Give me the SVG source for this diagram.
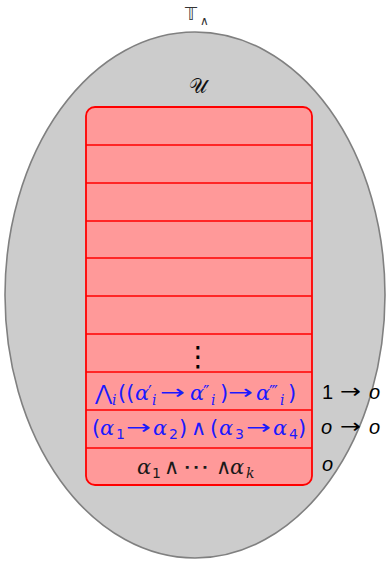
<svg xmlns="http://www.w3.org/2000/svg" width="386" height="561" viewBox="0 0 386 561">
<style>
.row{fill:none;stroke:#ff0000;stroke-width:1.6}
.m{font-family:"DejaVu Sans","Liberation Sans",sans-serif;font-size:21px;font-style:normal}
.a{font-family:"DejaVu Serif","Liberation Serif",serif;font-style:italic;font-size:21px}
.blue{fill:#1a1aff}
.dark{fill:#1a1a1a}
.lab{font-family:"Liberation Sans","DejaVu Sans",sans-serif;font-size:20px;fill:#000}
.it{font-style:italic}
.s{font-size:14px}
.p{font-family:"DejaVu Sans",sans-serif;font-size:17px;font-style:normal}
.arr{font-family:"DejaVu Sans",sans-serif;font-size:20px}
</style>
<rect width="386" height="561" fill="#ffffff"/>
<g id="universe">
<ellipse cx="195" cy="295" rx="190" ry="263" fill="#cccccc" stroke="#808080" stroke-width="1.6"/>
<text font-family="DejaVu Sans,sans-serif" fill="#333333"><tspan x="185" y="20" font-size="17">𝕋</tspan><tspan x="200" y="25" font-size="12">∧</tspan></text>
</g>
<g id="stack">
<rect x="86" y="107" width="226" height="378" rx="9" fill="#ff9999" stroke="#ff0000" stroke-width="1.8"/>
<text x="198" y="93" text-anchor="middle" font-family="DejaVu Serif,serif" font-size="20" fill="#111">𝒰</text>
</g>
<g id="rows">
<path class="row" d="M86 145H312M86 183H312M86 221H312M86 258H312M86 296H312M86 334H312M86 372H312M86 410H312M86 448H312"/>
</g>
<g id="dots">
<text x="198" y="366" text-anchor="middle" font-family="DejaVu Sans,sans-serif" font-size="28" fill="#000">⋮</text>
</g>
<g id="row8">
<text class="blue"><tspan class="m" x="95" y="400" font-size="17">⋀</tspan><tspan class="a s" x="112" y="405">i</tspan><tspan class="m" x="118" y="400">((</tspan><tspan class="a" x="135" y="400">α</tspan><tspan class="p" x="148" y="398">′</tspan><tspan class="a s" x="152" y="405">i</tspan><tspan class="a" x="190" y="400">α</tspan><tspan class="p" x="203" y="398">″</tspan><tspan class="a s" x="211" y="405">i</tspan><tspan class="m" x="220" y="400">)</tspan><tspan class="a" x="256" y="400">α</tspan><tspan class="p" x="269" y="398">‴</tspan><tspan class="a s" x="280" y="405">i</tspan><tspan class="m" x="288" y="400">)</tspan></text>
<text class="arr blue" x="160" y="399" textLength="25" lengthAdjust="spacingAndGlyphs">→</text>
<text class="arr blue" x="228" y="399" textLength="25" lengthAdjust="spacingAndGlyphs">→</text>
</g>
<g id="row8-label">
<text class="lab" x="322" y="399">1</text>
<text class="arr" x="340" y="398" textLength="21" lengthAdjust="spacingAndGlyphs">→</text>
<text class="lab it" x="369" y="399">o</text>
</g>
<g id="row9">
<text class="blue"><tspan class="m" x="92" y="435">(</tspan><tspan class="a" x="100" y="435">α</tspan><tspan class="m s" x="116" y="439">1</tspan><tspan class="a" x="153" y="435">α</tspan><tspan class="m s" x="169" y="439">2</tspan><tspan class="m" x="179" y="435">)</tspan><tspan class="m" x="191" y="435" font-size="20">∧</tspan><tspan class="m" x="210" y="435">(</tspan><tspan class="a" x="219" y="435">α</tspan><tspan class="m s" x="235" y="439">3</tspan><tspan class="a" x="273" y="435">α</tspan><tspan class="m s" x="289" y="439">4</tspan><tspan class="m" x="298" y="435">)</tspan></text>
<text class="arr blue" x="126" y="434" textLength="25" lengthAdjust="spacingAndGlyphs">→</text>
<text class="arr blue" x="246" y="434" textLength="25" lengthAdjust="spacingAndGlyphs">→</text>
</g>
<g id="row9-label">
<text class="lab it" x="321" y="434">o</text>
<text class="arr" x="340" y="433" textLength="21" lengthAdjust="spacingAndGlyphs">→</text>
<text class="lab it" x="369" y="434">o</text>
</g>
<g id="row10">
<text class="dark"><tspan class="a" x="137" y="474">α</tspan><tspan class="m s" x="152" y="478">1</tspan><tspan class="m" x="164" y="474" font-size="20">∧</tspan><tspan class="m" x="216" y="474" font-size="20">∧</tspan><tspan class="a" x="230" y="474">α</tspan><tspan class="a s" x="246" y="478">k</tspan></text>
<text class="m dark" x="183" y="474" textLength="27" lengthAdjust="spacingAndGlyphs">⋯</text>
</g>
<g id="row10-label">
<text class="lab it" x="322" y="471">o</text>
</g>
</svg>
